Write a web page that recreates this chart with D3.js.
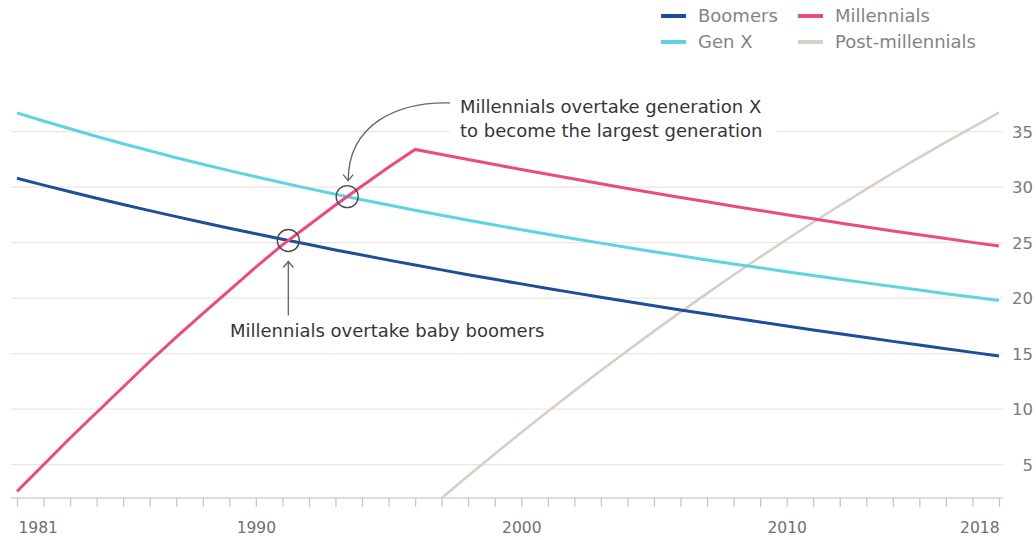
<!DOCTYPE html>
<html>
<head>
<meta charset="utf-8">
<script src="https://cdn.jsdelivr.net/npm/d3@7"></script>
<style>
  html, body { margin: 0; padding: 0; background: #fff; }
  svg { display: block; font-family: "DejaVu Sans", "Noto Sans", sans-serif; }
</style>
</head>
<body>
<svg id="chart" width="1036" height="540"></svg>
<script>
// Population by generation, 1981–2018
const years = [1981, 1982, 1983, 1984, 1985, 1986, 1987, 1988, 1989, 1990,
  1991, 1992, 1993, 1994, 1995, 1996, 1997, 1998, 1999, 2000,
  2001, 2002, 2003, 2004, 2005, 2006, 2007, 2008, 2009, 2010,
  2011, 2012, 2013, 2014, 2015, 2016, 2017, 2018];

const boomers = [30.80, 30.19, 29.59, 29.01, 28.44, 27.89, 27.35, 26.82, 26.31, 25.80,
  25.31, 24.83, 24.35, 23.89, 23.43, 22.99, 22.55, 22.12, 21.70, 21.29,
  20.88, 20.48, 20.09, 19.70, 19.32, 18.94, 18.57, 18.21, 17.85, 17.49,
  17.14, 16.79, 16.45, 16.11, 15.78, 15.45, 15.12, 14.80];

const genX = [36.70, 35.96, 35.26, 34.57, 33.91, 33.28, 32.66, 32.07, 31.49, 30.94,
  30.40, 29.87, 29.37, 28.87, 28.39, 27.92, 27.47, 27.03, 26.59, 26.17,
  25.76, 25.35, 24.96, 24.57, 24.19, 23.82, 23.45, 23.09, 22.74, 22.39,
  22.05, 21.71, 21.38, 21.06, 20.73, 20.41, 20.10, 19.79];

const millennials = [2.60, 5.00, 7.40, 9.70, 12.00, 14.30, 16.50, 18.60, 20.70, 22.80,
  24.80, 26.60, 28.40, 30.10, 31.80, 33.40, 32.94, 32.49, 32.04, 31.60,
  31.16, 30.73, 30.31, 29.89, 29.48, 29.08, 28.68, 28.29, 27.90, 27.52,
  27.15, 26.78, 26.42, 26.06, 25.71, 25.37, 25.03, 24.70];

const postMillennials = [null, null, null, null, null, null, null, null, null, null,
  null, null, null, null, null, null, 2.00, 4.00, 5.97, 7.90,
  9.79, 11.65, 13.48, 15.27, 17.03, 18.75, 20.44, 22.09, 23.71, 25.29,
  26.84, 28.35, 29.83, 31.28, 32.69, 34.06, 35.40, 36.71];

const yTicks = [5, 10, 15, 20, 25, 30, 35];
const xTickLabels = [1981, 1990, 2000, 2010, 2018];

const series = [
  { name: "Post-millennials", values: postMillennials, color: "#d6cec7", width: 2.6 },
  { name: "Boomers", values: boomers, color: "#1d4e98", width: 3 },
  { name: "Gen X", values: genX, color: "#5dd5e1", width: 3 },
  { name: "Millennials", values: millennials, color: "#ea4b80", width: 3 }
];

const svg = d3.select("#chart");

const x = d3.scaleLinear().domain([1981, 2018]).range([17, 999]);
const y = d3.scaleLinear().domain([2, 35]).range([498, 131.7]);

// horizontal gridlines
svg.append("g").selectAll("line")
  .data(yTicks)
  .join("line")
  .attr("x1", 11).attr("x2", 1003)
  .attr("y1", d => y(d)).attr("y2", d => y(d))
  .attr("stroke", "#eee6df").attr("stroke-width", 1.3);

// right-hand value labels
svg.append("g").selectAll("text")
  .data(yTicks)
  .join("text")
  .attr("x", 1033).attr("y", d => y(d))
  .attr("dy", "0.36em")
  .attr("text-anchor", "end")
  .attr("font-size", 16.5)
  .attr("fill", "#7a7a7a")
  .text(d => d);

// x axis: baseline, yearly ticks, labels
const xAxis = d3.axisBottom(x)
  .tickValues(years)
  .tickSize(9)
  .tickFormat(d => xTickLabels.includes(d) ? d : "");
const gx = svg.append("g").attr("transform", `translate(0,${y(2)})`).call(xAxis);
gx.select(".domain").attr("d", `M11,0H1003`).attr("stroke", "#d8d2cc").attr("stroke-width", 1.3);
gx.selectAll(".tick line").attr("stroke", "#c9c3bd").attr("stroke-width", 1.2);
gx.selectAll(".tick text")
  .attr("font-family", "\"DejaVu Sans\", sans-serif")
  .attr("font-size", 15.5)
  .attr("fill", "#707070")
  .attr("y", 24)
  .attr("text-anchor", d => d === 1981 ? "start" : d === 2018 ? "end" : "middle")
  .attr("dx", d => d === 1981 ? 1 : 0);

// series lines
const line = d3.line()
  .defined(d => d[1] != null)
  .x(d => x(d[0]))
  .y(d => y(d[1]));

svg.append("g").selectAll("path")
  .data(series)
  .join("path")
  .attr("d", s => line(years.map((yr, i) => [yr, s.values[i]])))
  .attr("fill", "none")
  .attr("stroke", s => s.color)
  .attr("stroke-width", s => s.width)
  .attr("stroke-linejoin", "miter")
  .attr("stroke-linecap", "butt");

// where one series overtakes another
function crossing(a, b) {
  for (let i = 0; i < years.length - 1; i++) {
    const d0 = a[i] - b[i], d1 = a[i + 1] - b[i + 1];
    if (d0 <= 0 && d1 > 0) {
      const t = -d0 / (d1 - d0);
      return [years[i] + t, a[i] + t * (a[i + 1] - a[i])];
    }
  }
  return null;
}

const overBoomers = crossing(millennials, boomers);
const overGenX = crossing(millennials, genX);

const ann = svg.append("g");
[overBoomers, overGenX].forEach(p => {
  ann.append("circle")
    .attr("cx", x(p[0])).attr("cy", y(p[1]))
    .attr("r", 11)
    .attr("fill", "none")
    .attr("stroke", "#4a4a4a")
    .attr("stroke-width", 1.4);
});

// straight arrow up to the boomers crossing
const bx = x(overBoomers[0]), by = y(overBoomers[1]);
ann.append("line")
  .attr("x1", bx).attr("x2", bx)
  .attr("y1", by + 75).attr("y2", by + 21)
  .attr("stroke", "#6a6a6a").attr("stroke-width", 1.4);
ann.append("path")
  .attr("d", `M${bx - 5},${by + 27}L${bx},${by + 21}L${bx + 5},${by + 27}`)
  .attr("fill", "none").attr("stroke", "#6a6a6a").attr("stroke-width", 1.4);

ann.append("text")
  .attr("x", 230).attr("y", 337)
  .attr("font-size", 18)
  .attr("fill", "#363636")
  .text("Millennials overtake baby boomers");

// curved arrow down to the gen X crossing
const gxp = x(overGenX[0]), gyp = y(overGenX[1]);
const tipY = gyp - 16;
ann.append("path")
  .attr("d", `M453,103 C395,101 ${gxp + 1},${tipY - 55} ${gxp + 1},${tipY}`)
  .attr("fill", "none").attr("stroke", "#6a6a6a").attr("stroke-width", 1.4);
ann.append("path")
  .attr("d", `M${gxp - 4},${tipY - 6}L${gxp + 1},${tipY}L${gxp + 6},${tipY - 6}`)
  .attr("fill", "none").attr("stroke", "#6a6a6a").attr("stroke-width", 1.4);

const note = ann.append("g");
note.append("rect")
  .attr("x", 450).attr("y", 92).attr("width", 326).attr("height", 50)
  .attr("fill", "#fff");
note.append("text")
  .attr("x", 460).attr("y", 113)
  .attr("font-size", 18)
  .attr("fill", "#363636")
  .text("Millennials overtake generation X");
note.append("text")
  .attr("x", 460).attr("y", 137)
  .attr("font-size", 18)
  .attr("fill", "#363636")
  .text("to become the largest generation");

// legend
const legendItems = [
  { name: "Boomers", color: "#1d4e98", lx: 661, ly: 16 },
  { name: "Millennials", color: "#ea4b80", lx: 798, ly: 16 },
  { name: "Gen X", color: "#5dd5e1", lx: 661, ly: 42 },
  { name: "Post-millennials", color: "#d6cec7", lx: 798, ly: 42 }
];
const lg = svg.append("g").selectAll("g")
  .data(legendItems)
  .join("g")
  .attr("transform", d => `translate(${d.lx},${d.ly})`);
lg.append("line")
  .attr("x1", 0).attr("x2", 25).attr("y1", 0).attr("y2", 0)
  .attr("stroke", d => d.color).attr("stroke-width", 4);
lg.append("text")
  .attr("x", 37).attr("dy", "0.36em")
  .attr("font-size", 18)
  .attr("fill", "#848484")
  .text(d => d.name);
</script>
</body>
</html>
